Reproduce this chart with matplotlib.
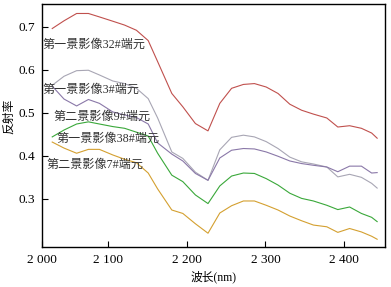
import matplotlib
matplotlib.use("Agg")
import matplotlib.pyplot as plt

# wavelength samples (nm)
wavelength = [2029, 2044, 2060, 2075, 2089, 2106, 2121, 2136, 2151, 2163,
              2181, 2195, 2211, 2227, 2242, 2257, 2272, 2286, 2301, 2316,
              2331, 2346, 2361, 2378, 2392, 2407, 2422, 2435, 2442]

# endmember spectra
em_32 = [0.696, 0.714, 0.731, 0.731, 0.723, 0.713, 0.704, 0.692, 0.668, 0.619,
         0.545, 0.514, 0.475, 0.458, 0.522, 0.557, 0.566, 0.568, 0.560, 0.545,
         0.520, 0.506, 0.497, 0.488, 0.467, 0.470, 0.464, 0.453, 0.441]
em_3 = [0.564, 0.585, 0.598, 0.599, 0.588, 0.574, 0.568, 0.557, 0.533, 0.488,
        0.409, 0.394, 0.362, 0.343, 0.414, 0.443, 0.448, 0.444, 0.433, 0.417,
        0.397, 0.386, 0.381, 0.374, 0.351, 0.357, 0.350, 0.336, 0.325]
em_9 = [0.562, 0.532, 0.516, 0.531, 0.522, 0.502, 0.495, 0.489, 0.474, 0.430,
        0.404, 0.388, 0.359, 0.343, 0.395, 0.413, 0.417, 0.416, 0.409, 0.399,
        0.388, 0.382, 0.378, 0.374, 0.363, 0.376, 0.376, 0.360, 0.361]
em_38 = [0.444, 0.460, 0.474, 0.479, 0.474, 0.468, 0.464, 0.455, 0.446, 0.406,
         0.355, 0.340, 0.309, 0.289, 0.330, 0.353, 0.360, 0.359, 0.347, 0.332,
         0.313, 0.301, 0.295, 0.285, 0.275, 0.281, 0.266, 0.257, 0.247]
em_7 = [0.432, 0.418, 0.406, 0.415, 0.415, 0.402, 0.392, 0.384, 0.360, 0.323,
        0.274, 0.266, 0.242, 0.220, 0.267, 0.284, 0.295, 0.295, 0.285, 0.274,
        0.260, 0.249, 0.239, 0.235, 0.222, 0.231, 0.223, 0.213, 0.206]

labels = ['第一景影像32#端元', '第一景影像3#端元', '第二景影像9#端元',
          '第一景影像38#端元', '第二景影像7#端元']
x_ticks = [2016, 2100, 2200, 2300, 2400]
x_tick_labels = ['2 000', '2 100', '2 200', '2 300', '2 400']
y_ticks = [0.3, 0.4, 0.5, 0.6, 0.7]

fonts = ['Liberation Serif', 'Noto Sans CJK SC']
plt.rcParams['font.family'] = fonts

fig = plt.figure(figsize=(3.91, 2.87), dpi=100)
ax = fig.add_axes([0.1074, 0.1394, 0.8773, 0.8466])

series = [em_32, em_3, em_9, em_38, em_7]
colors = ['#c0504d', '#a8a6b4', '#8a78a8', '#3aa83a', '#d4a030']
for y, c in zip(series, colors):
    ax.plot(wavelength, y, color=c, lw=0.8)

ax.set_xlim(2016, 2452)
ax.set_ylim(0.188, 0.753)
ax.set_xticks(x_ticks)
ax.set_xticklabels(x_tick_labels)
ax.set_yticks(y_ticks)
ax.set_yticklabels(['%.1f' % v for v in y_ticks])
ax.tick_params(direction='in', length=4, width=0.8, labelsize=9.5, pad=5)
for s in ax.spines.values():
    s.set_linewidth(1.0)

# curve labels
label_pos = [(2017, 0.659), (2017, 0.554), (2030, 0.491),
             (2034, 0.440), (2022, 0.380)]
for (lx, ly), t in zip(label_pos, labels):
    ax.text(lx, ly, t, fontsize=8.7, va='center', ha='left', color='#333333')

fig.text(9 / 391, 1 - 116 / 287, '反射率', rotation=90, fontsize=8.5,
         ha='center', va='center')
fig.text(214 / 391, 1 - 277 / 287, '波长(nm)', fontsize=8.5,
         ha='center', va='center')

fig.savefig('out.png', dpi=100)
